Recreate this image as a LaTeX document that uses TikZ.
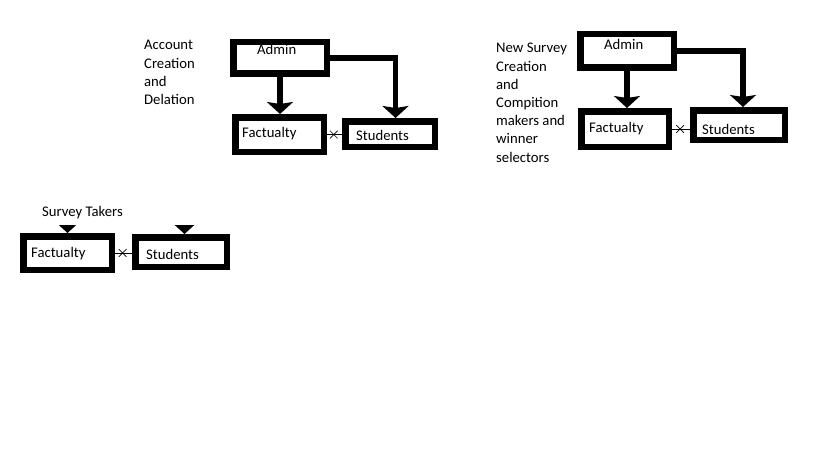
\documentclass[tikz,border=0pt]{standalone}
\usepackage{fontspec}
\setmainfont{Carlito}
\usetikzlibrary{arrows.meta,shapes.misc}

\begin{document}
\begin{tikzpicture}[x=1pt,y=-1pt,
   box/.style={draw,line width=6.5pt,inner sep=0pt},
   lbl/.style={anchor=base west,inner sep=0pt,font=\fontsize{14.7}{18}\selectfont},
   note/.style={anchor=north west,align=left,inner sep=0pt,font=\fontsize{14.7}{18.2}\selectfont},
   bigarrow/.style={line width=5.5pt,-{Stealth[length=12pt,width=26pt,inset=2pt]}},
   link/.style={line width=1pt},
   cross/.style={cross out,draw,line width=0.7pt,minimum size=7pt,inner sep=0pt}]
   \fill[white] (0,0) rectangle (819,460);
   \useasboundingbox (0,0) rectangle (819,460);

   \node[box,minimum width=93.5pt,minimum height=31.5pt] (a1) at (280,58) {};
   \node[box,minimum width=88.5pt,minimum height=34.5pt] (f1) at (279.5,134.5) {};
   \node[box,minimum width=89.5pt,minimum height=25.5pt] (s1) at (390,134) {};

   \node[box,minimum width=93.5pt,minimum height=33.5pt] (a2) at (627,51) {};
   \node[box,minimum width=87.5pt,minimum height=35.5pt] (f2) at (625,129) {};
   \node[box,minimum width=91.5pt,minimum height=29.5pt] (s2) at (739,125) {};

   \node[box,minimum width=88.5pt,minimum height=33.5pt] (f3) at (67.5,253) {};
   \node[box,minimum width=91.5pt,minimum height=29.5pt] (s3) at (181,252) {};

   \node[lbl] (a1text) at (257,54.7) {Admin};
   \node[lbl] (f1text) at (242,137.7) {Factualty};
   \node[lbl] (s1text) at (356,140.7) {Students};
   \node[lbl] (a2text) at (604,49.7) {Admin};
   \node[lbl] (f2text) at (589,132.7) {Factualty};
   \node[lbl] (s2text) at (702,134.7) {Students};
   \node[lbl] (f3text) at (31,257.7) {Factualty};
   \node[lbl] (s3text) at (146,259.7) {Students};
   \node[lbl] (takers) at (42,216.7) {Survey Takers};

   \node[note] (account) at (144,40.2) {Account\\Creation\\and\\Delation};
   \node[note] (survey) at (496,43.2) {New Survey\\Creation\\and\\Compition\\makers and\\winner\\selectors};

   \draw[bigarrow] (a1.south) -- (a1.south |- f1.north);
   \draw[bigarrow] (a1.east) -| ([xshift=5.5pt]s1.north);
   \draw[link] (f1.east) -- (f1.east -| s1.west) node[cross,pos=0.45] {};

   \draw[bigarrow] (a2.south) -- (a2.south |- f2.north);
   \draw[bigarrow] (a2.east) -| ([xshift=4pt]s2.north);
   \draw[link] (f2.east) -- (f2.east -| s2.west) node[cross,pos=0.45] {};

   \draw[link] (f3.east) -- (f3.east -| s3.west) node[cross,pos=0.45] {};
   \begin{scope}
      \clip (0,225) rectangle (819,460);
      \coordinate (up3f) at ([yshift=30pt]f3.north);
      \coordinate (up3s) at ([xshift=3.5pt,yshift=30pt]s3.north);
      \draw[bigarrow] (up3f) -- (f3.north);
      \draw[bigarrow] (up3s) -- ([xshift=3.5pt]s3.north);
   \end{scope}
\end{tikzpicture}
\end{document}
